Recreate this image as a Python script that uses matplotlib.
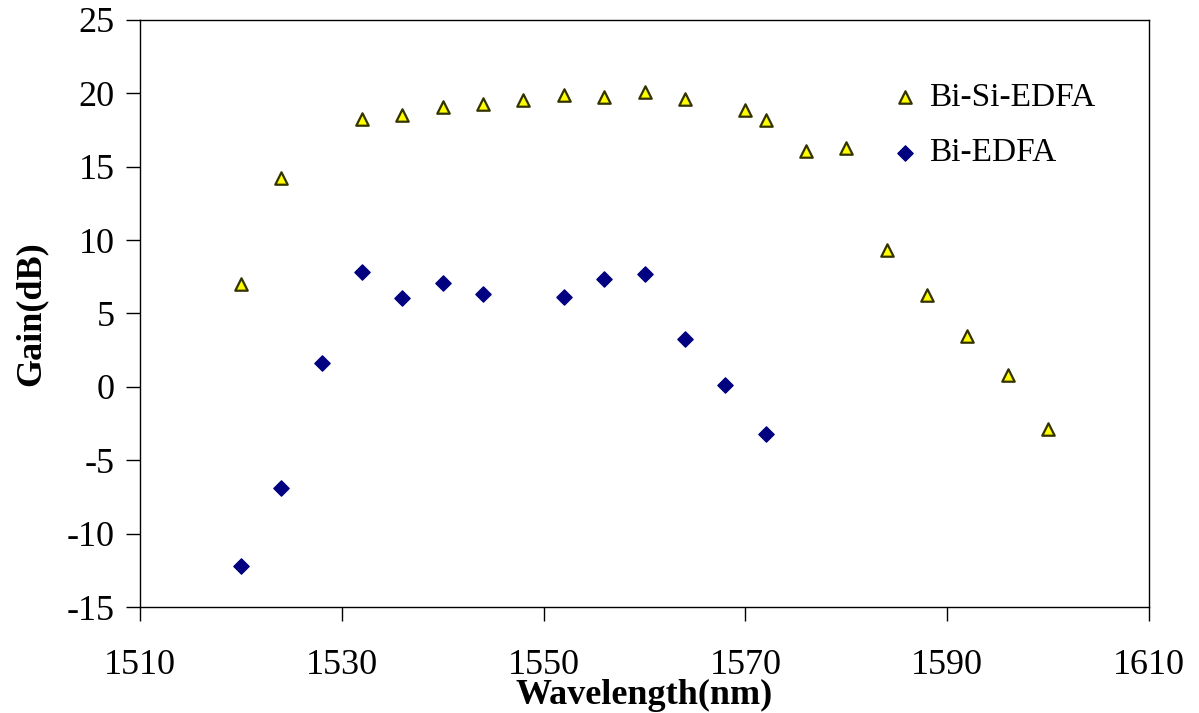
import matplotlib.pyplot as plt

# Bi-Si-EDFA gain
wl_bisi = [1520, 1524, 1532, 1536, 1540, 1544, 1548, 1552, 1556, 1560,
           1564, 1570, 1572, 1576, 1580, 1584, 1588, 1592, 1596, 1600]
gain_bisi = [7.0, 14.2, 18.25, 18.5, 19.1, 19.3, 19.55, 19.9, 19.75, 20.1,
             19.6, 18.9, 18.2, 16.1, 16.3, 9.3, 6.25, 3.5, 0.8, -2.9]

# Bi-EDFA gain
wl_bi = [1520, 1524, 1528, 1532, 1536, 1540, 1544, 1552, 1556, 1560,
         1564, 1568, 1572]
gain_bi = [-12.2, -6.9, 1.65, 7.85, 6.05, 7.1, 6.35, 6.15, 7.35, 7.7,
           3.25, 0.1, -3.2]

plt.rcParams['font.family'] = ['Liberation Serif', 'DejaVu Serif']
plt.rcParams['axes.unicode_minus'] = False

fig = plt.figure(figsize=(11.99, 7.13), dpi=100)
ax = fig.add_axes([140 / 1199, 1 - 607 / 713, 1009 / 1199, 587 / 713])

ax.scatter(wl_bisi, gain_bisi, marker='^', s=80, facecolor='#ffff00',
           edgecolor='#333300', linewidth=1.6, label='Bi-Si-EDFA', zorder=3)
ax.scatter(wl_bi, gain_bi, marker='D', s=60, color='#000080',
           label='Bi-EDFA', zorder=3)

ax.set_xlim(1510, 1610)
ax.set_ylim(-15, 25)
ax.set_xticks(range(1510, 1611, 20))
ax.set_yticks(range(-15, 26, 5))
ax.tick_params(direction='out', length=10, width=1, labelsize=26, pad=20)
ax.tick_params(axis='y', pad=8)
for s in ax.spines.values():
    s.set_linewidth(1)

ax.set_xlabel('Wavelength(nm)', fontsize=26, fontweight='bold', labelpad=-2)
ax.set_ylabel('Gain(dB)', fontsize=26, fontweight='bold', labelpad=14)

ax.legend(loc='upper right', bbox_to_anchor=(0.977, 0.945), frameon=False,
          fontsize=24, handlelength=0.8, handletextpad=0.35, labelspacing=0.75)

fig.savefig('out.png', dpi=100)
